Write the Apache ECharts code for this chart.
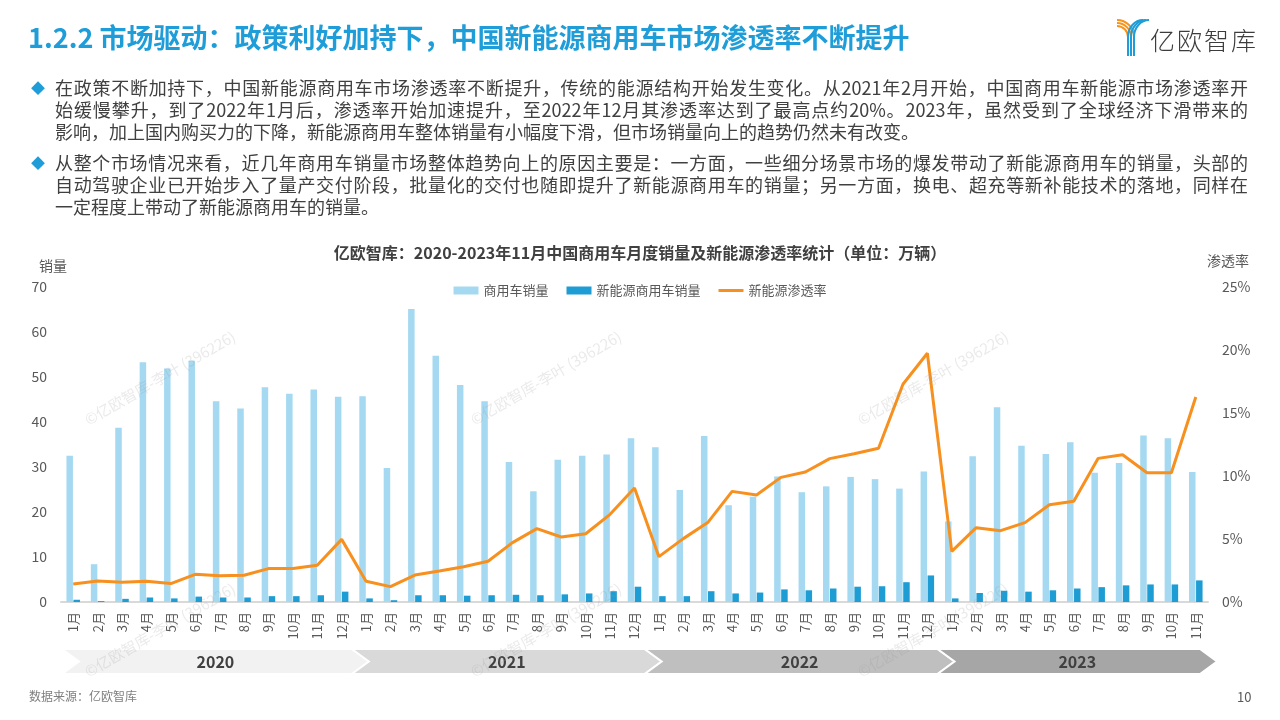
<!DOCTYPE html>
<html>
<head>
<meta charset="utf-8">
<script src="https://cdn.jsdelivr.net/npm/echarts@6/dist/echarts.min.js"></script>
<style>
html,body{margin:0;padding:0;background:#fff;}
body{width:1280px;height:720px;position:relative;overflow:hidden;font-family:"Noto Sans CJK SC","Noto Sans",sans-serif;}
#chart{position:absolute;left:0;top:0;width:1280px;height:720px;}
.abs{position:absolute;white-space:nowrap;}
#title{left:28px;top:17px;font-size:27px;font-weight:bold;color:#1E9DD8;line-height:40px;}
.para{position:absolute;left:55px;width:1193px;font-size:18px;line-height:22px;color:#404040;}
.para div{text-align:justify;text-align-last:justify;white-space:nowrap;}
.para div.last{text-align-last:left;}
.bullet{position:absolute;left:31px;font-size:14px;color:#1E9DD8;line-height:22px;}
#logoText{left:1150px;top:22px;font-size:25px;color:#3c3c3c;letter-spacing:2px;line-height:34px;font-weight:300;}
#source{left:29px;top:687px;font-size:12px;color:#7f7f7f;line-height:18px;}
#page{left:1237px;top:688px;font-size:13px;color:#595959;line-height:18px;}
</style>
</head>
<body>
<div id="chart"></div>
<div id="title" class="abs">1.2.2 市场驱动：政策利好加持下，中国新能源商用车市场渗透率不断提升</div>
<svg class="abs" style="left:1117px;top:19px" width="34" height="38" viewBox="0 0 34 38">
  <g fill="none" stroke-width="2">
    <path d="M0 1 A17 17 0 0 1 17 18" stroke="#F7941D"/>
    <path d="M0 4 A14 14 0 0 1 14 18" stroke="#F7941D"/>
    <path d="M0 7 A11 11 0 0 1 11 18" stroke="#F7941D"/>
    <path d="M32 1 A15 17 0 0 0 17 18 L17 37" stroke="#1E9DD8"/>
    <path d="M29 1 A15 17 0 0 0 14 18 L14 37" stroke="#1E9DD8"/>
    <path d="M26 1 A15 17 0 0 0 11 18 L11 37" stroke="#1E9DD8"/>
  </g>
</svg>
<div id="logoText" class="abs">亿欧智库</div>
<div class="bullet" style="top:76px">◆</div>
<div class="para" style="top:76px">
  <div>在政策不断加持下，中国新能源商用车市场渗透率不断提升，传统的能源结构开始发生变化。从2021年2月开始，中国商用车新能源市场渗透率开</div>
  <div>始缓慢攀升，到了2022年1月后，渗透率开始加速提升，至2022年12月其渗透率达到了最高点约20%。2023年，虽然受到了全球经济下滑带来的</div>
  <div class="last">影响，加上国内购买力的下降，新能源商用车整体销量有小幅度下滑，但市场销量向上的趋势仍然未有改变。</div>
</div>
<div class="bullet" style="top:151px">◆</div>
<div class="para" style="top:151px">
  <div>从整个市场情况来看，近几年商用车销量市场整体趋势向上的原因主要是：一方面，一些细分场景市场的爆发带动了新能源商用车的销量，头部的</div>
  <div>自动驾驶企业已开始步入了量产交付阶段，批量化的交付也随即提升了新能源商用车的销量；另一方面，换电、超充等新补能技术的落地，同样在</div>
  <div class="last">一定程度上带动了新能源商用车的销量。</div>
</div>
<div id="source" class="abs">数据来源：亿欧智库</div>
<div id="page" class="abs">10</div>
<script>
const chartTitle = '亿欧智库：2020-2023年11月中国商用车月度销量及新能源渗透率统计（单位：万辆）';
const years = ['2020', '2021', '2022', '2023'];
const monthsPerYear = [12, 12, 12, 11];
const months = [
  '1月','2月','3月','4月','5月','6月','7月','8月','9月','10月','11月','12月',
  '1月','2月','3月','4月','5月','6月','7月','8月','9月','10月','11月','12月',
  '1月','2月','3月','4月','5月','6月','7月','8月','9月','10月','11月','12月',
  '1月','2月','3月','4月','5月','6月','7月','8月','9月','10月','11月'
];
const totalSales = [
  32.5, 8.4, 38.7, 53.3, 51.9, 53.6, 44.6, 43.0, 47.7, 46.3, 47.2, 45.6,
  45.7, 29.8, 65.1, 54.7, 48.2, 44.6, 31.1, 24.6, 31.6, 32.5, 32.8, 36.4,
  34.4, 24.9, 36.9, 21.5, 23.4, 27.9, 24.4, 25.7, 27.8, 27.3, 25.2, 29.0,
  17.9, 32.4, 43.3, 34.7, 32.9, 35.5, 28.7, 30.9, 37.0, 36.4, 28.9
];
const nevSales = [
  0.5, 0.2, 0.7, 1.0, 0.8, 1.2, 1.0, 1.0, 1.3, 1.3, 1.5, 2.3,
  0.8, 0.4, 1.5, 1.5, 1.4, 1.5, 1.6, 1.5, 1.7, 1.9, 2.4, 3.4,
  1.3, 1.3, 2.4, 1.9, 2.1, 2.8, 2.6, 3.0, 3.4, 3.5, 4.4, 5.9,
  0.8, 2.0, 2.5, 2.3, 2.6, 3.0, 3.3, 3.7, 3.9, 3.9, 4.8
];
const penetration = [
  1.43, 1.67, 1.56, 1.64, 1.46, 2.20, 2.09, 2.12, 2.65, 2.65, 2.91, 4.97,
  1.64, 1.22, 2.14, 2.46, 2.80, 3.23, 4.71, 5.82, 5.16, 5.42, 6.96, 9.05,
  3.60, 5.03, 6.30, 8.78, 8.49, 9.89, 10.32, 11.38, 11.77, 12.20, 17.28, 19.74,
  4.02, 5.90, 5.66, 6.30, 7.72, 7.99, 11.40, 11.69, 10.26, 10.26, 16.27
];
const seriesNames = ['商用车销量', '新能源商用车销量', '新能源渗透率'];
const leftTicks = { min: 0, max: 70, interval: 10 };
const rightTicks = { min: 0, max: 25, interval: 5 };
const watermarkText = '©亿欧智库-李叶 (396226)';

const FONT = '"Noto Sans CJK SC","Noto Sans",sans-serif';
const chart = echarts.init(document.getElementById('chart'), null, { renderer: 'canvas' });

const option = {
  animation: false,
  backgroundColor: 'transparent',
  textStyle: { fontFamily: FONT },
  title: {
    text: chartTitle, left: 'center', top: 240,
    textStyle: { fontSize: 16, fontWeight: 'bold', color: '#404040', fontFamily: FONT }
  },
  legend: {
    top: 279, left: 'center', itemWidth: 25, itemHeight: 8, itemGap: 18,
    textStyle: { fontSize: 13, color: '#595959', fontFamily: FONT },
    data: [
      { name: seriesNames[0], icon: 'rect' },
      { name: seriesNames[1], icon: 'rect' },
      { name: seriesNames[2], icon: 'path://M0,0 L25,0 L25,3 L0,3 Z' }
    ]
  },
  grid: { left: 61, right: 72, top: 287, bottom: 118, containLabel: false },
  xAxis: {
    type: 'category', data: months,
    axisLine: { lineStyle: { color: '#d9d9d9', width: 2 } },
    axisTick: { show: false },
    axisLabel: { rotate: 90, fontSize: 13, color: '#595959', margin: 10, interval: 0, fontFamily: FONT }
  },
  yAxis: [
    {
      type: 'value', min: leftTicks.min, max: leftTicks.max, interval: leftTicks.interval,
      name: '销量', nameLocation: 'end', nameGap: 14,
      nameTextStyle: { fontSize: 14, color: '#595959', padding: [0, 16, 0, 0], fontFamily: FONT },
      splitLine: { show: false }, axisLine: { show: false }, axisTick: { show: false },
      axisLabel: { fontSize: 14, color: '#595959', margin: 14, fontFamily: FONT }
    },
    {
      type: 'value', min: rightTicks.min, max: rightTicks.max, interval: rightTicks.interval,
      name: '渗透率', nameLocation: 'end', nameGap: 19,
      nameTextStyle: { fontSize: 14, color: '#595959', padding: [0, 0, 0, 40], fontFamily: FONT },
      splitLine: { show: false }, axisLine: { show: false }, axisTick: { show: false },
      axisLabel: { fontSize: 14, color: '#595959', margin: 14, formatter: '{value}%', fontFamily: FONT }
    }
  ],
  series: [
    { name: seriesNames[0], type: 'bar', data: totalSales, barWidth: 6.5, barGap: '8%',
      itemStyle: { color: '#A4D9F1' } },
    { name: seriesNames[1], type: 'bar', data: nevSales, barWidth: 6.5, barGap: '8%',
      itemStyle: { color: '#1E9DD4' } },
    { name: seriesNames[2], type: 'line', yAxisIndex: 1, data: penetration, symbol: 'none',
      lineStyle: { width: 3, color: '#F7901E' }, itemStyle: { color: '#F7901E' } }
  ]
};
chart.setOption(option);

// Year chevrons aligned to the category axis
const graphics = [];
const bandColors = ['#f2f2f2', '#d9d9d9', '#bfbfbf', '#a6a6a6'];
const bandTop = 649, bandBottom = 674, bandMid = (bandTop + bandBottom) / 2, tip = 17;
const step = chart.convertToPixel({ xAxisIndex: 0 }, 1) - chart.convertToPixel({ xAxisIndex: 0 }, 0);
let startIdx = 0;
let prevRight = null;
years.forEach((y, i) => {
  const endIdx = startIdx + monthsPerYear[i] - 1;
  const cs = chart.convertToPixel({ xAxisIndex: 0 }, startIdx);
  const ce = chart.convertToPixel({ xAxisIndex: 0 }, endIdx);
  const left = prevRight === null ? cs - step / 2 + 1 : prevRight;
  const right = ce + step / 2 - (i === years.length - 1 ? 8 : 2);
  graphics.push({
    type: 'polygon', z: 1,
    shape: { points: [[left, bandTop], [right, bandTop], [right + tip, bandMid], [right, bandBottom], [left, bandBottom], [left + tip, bandMid]] },
    style: { fill: bandColors[i], stroke: '#ffffff', lineWidth: 2 }
  });
  graphics.push({
    type: 'text', z: 2,
    x: (left + tip + right) / 2, y: bandMid,
    style: { text: y, fill: '#404040', font: 'bold 16px ' + FONT, align: 'center', verticalAlign: 'middle' }
  });
  prevRight = right;
  startIdx = endIdx + 1;
});

// Faint watermarks
[[160, 378], [546, 378], [933, 378], [160, 630], [546, 630], [933, 630]].forEach(p => {
  graphics.push({
    type: 'text', z: 200, x: p[0], y: p[1], rotation: Math.PI / 6,
    style: { text: watermarkText, fill: 'rgba(150,150,150,0.2)', font: '15px ' + FONT, align: 'center', verticalAlign: 'middle' }
  });
});
chart.setOption({ graphic: graphics });
</script>
</body>
</html>
